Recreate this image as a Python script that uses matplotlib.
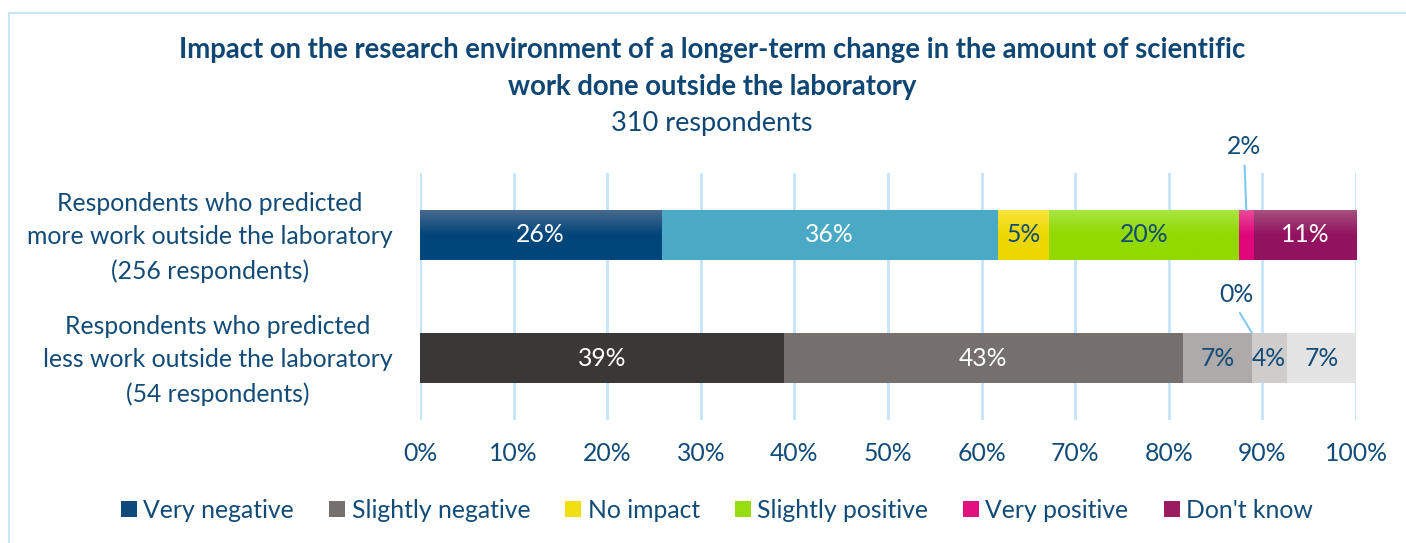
import matplotlib
matplotlib.use("Agg")
import matplotlib.pyplot as plt
import numpy as np
from matplotlib.colors import LinearSegmentedColormap
from matplotlib.patches import Rectangle, Patch
from matplotlib.transforms import ScaledTranslation

plt.rcParams['font.family'] = ['Lato', 'DejaVu Sans']

# ---------------- data ----------------
title_line1 = "Impact on the research environment of a longer-term change in the amount of scientific"
title_line2 = "work done outside the laboratory"
subtitle = "310 respondents"

categories = [
    "Respondents who predicted\nmore work outside the laboratory\n(256 respondents)",
    "Respondents who predicted\nless work outside the laboratory\n(54 respondents)",
]
series_names = ["Very negative", "Slightly negative", "No impact",
                "Slightly positive", "Very positive", "Don't know"]
more_values = [25.78, 35.94, 5.47, 20.31, 1.56, 10.94]
less_values = [38.89, 42.59, 7.41, 0.00, 3.70, 7.41]
x_ticks = [0, 10, 20, 30, 40, 50, 60, 70, 80, 90, 100]

# ---------------- styles ----------------
TXT = "#124b77"
WHITE = "#ffffff"
GRID = "#c4e4fa"

# (top colour, base colour) for each segment
more_colors = [("#4a6a8f", "#00467a"), ("#4aaac5", "#4aaac5"), ("#f8e640", "#ecd800"),
               ("#a8e545", "#92d900"), ("#ea4c98", "#e0077b"), ("#a8517f", "#921260")]
less_colors = [("#3a3837", "#3a3837"), ("#75706e", "#75706e"), ("#aeaaa9", "#aeaaa9"),
               ("#bfbcbb", "#bfbcbb"), ("#cfcccc", "#cfcccc"), ("#e4e3e3", "#e4e3e3")]
more_label_colors = [WHITE, WHITE, TXT, TXT, TXT, WHITE]
less_label_colors = [WHITE, WHITE, TXT, TXT, TXT, TXT]
legend_colors = ["#0b4a7b", "#75706e", "#f2df10", "#98dd10", "#e2117f", "#9b1b61"]
# callout offsets (pixels) for tiny segments: (dx, dy)
more_callout = (-2, 63)
less_callout = (-16, 38)

FS = 17.8

fig = plt.figure(figsize=(14.06, 5.43), dpi=100)
# chart border
fig.patches.append(Rectangle((9 / 1406, -0.1), 1.2, 1 - 13 / 543 + 0.1,
                             transform=fig.transFigure, fill=False,
                             edgecolor="#c8e6fa", lw=1.5, zorder=0))

ax = fig.add_axes([420 / 1406, 1 - 420 / 543, 936 / 1406, 247 / 543])
bar_h = 0.407

rows = [(1, more_values, more_colors, more_label_colors, more_callout),
        (0, less_values, less_colors, less_label_colors, less_callout)]

for ypos, vals, cols, lcols, callout in rows:
    left = 0.0
    for v, (ctop, cbase), lc in zip(vals, cols, lcols):
        bars = ax.barh([ypos], [v], left=[left], height=bar_h, color=cbase,
                       edgecolor="none", zorder=3)
        b = bars[0]
        if ctop != cbase and v > 0:
            cmap = LinearSegmentedColormap.from_list(
                "g", [(0, ctop), (0.5, cbase), (1, cbase)])
            grad = np.linspace(0, 1, 64).reshape(-1, 1)
            im = ax.imshow(grad, cmap=cmap, aspect="auto",
                           extent=(left, left + v, ypos - bar_h / 2, ypos + bar_h / 2),
                           origin="upper", zorder=3.5, interpolation="bilinear")
            im.set_clip_path(b)
        label = f"{v:.0f}%"
        cx = left + v / 2
        if v < 3:
            ax.annotate(label, xy=(cx, ypos + bar_h / 2), xytext=callout,
                        textcoords="offset pixels", ha="center", va="center",
                        fontsize=FS, color=TXT, annotation_clip=False,
                        arrowprops=dict(arrowstyle="-", color="#7fcaf5", lw=1.5,
                                        shrinkA=3, shrinkB=0, relpos=(0.5, 0)),
                        zorder=6)
        else:
            ax.text(cx, ypos, label, ha="center", va="center",
                    fontsize=FS, color=lc, zorder=6)
        left += v

ax.set_xlim(0, 100)
ax.set_ylim(-0.504, 1.504)

ax.set_xticks(x_ticks)
ax.set_xticklabels([f"{t}%" for t in x_ticks])
ax.set_yticks([1, 0])
ax.set_yticklabels(categories, multialignment="center", linespacing=1.55)
ax.tick_params(axis="both", length=0, labelsize=FS, labelcolor=TXT)
ax.tick_params(axis="x", pad=16)
ax.tick_params(axis="y", pad=19.5)
shift = ScaledTranslation(0, 5 / 100, fig.dpi_scale_trans)
for lab in ax.get_yticklabels():
    lab.set_transform(lab.get_transform() + shift)
for s in ax.spines.values():
    s.set_visible(False)
ax.grid(axis="x", color=GRID, lw=2, zorder=0)
ax.set_axisbelow(True)

# titles
fig.text(712 / 1406, 1 - 50 / 543, title_line1, ha="center", va="center",
         fontsize=19.8, fontweight="bold", color="#0f4673")
fig.text(712 / 1406, 1 - 87 / 543, title_line2, ha="center", va="center",
         fontsize=19.8, fontweight="bold", color="#0f4673")
fig.text(712 / 1406, 1 - 124 / 543, subtitle, ha="center", va="center",
         fontsize=19.5, color="#0f4673")

# legend
handles = [Patch(facecolor=c, edgecolor="none") for c in legend_colors]
fig.legend(handles, series_names, loc="center", ncol=6,
           bbox_to_anchor=(717 / 1406, 1 - 510 / 543), frameon=False,
           fontsize=FS, labelcolor=TXT, handlelength=0.65, handleheight=0.65,
           handletextpad=0.25, columnspacing=1.42)

fig.savefig("out.png", dpi=100)
